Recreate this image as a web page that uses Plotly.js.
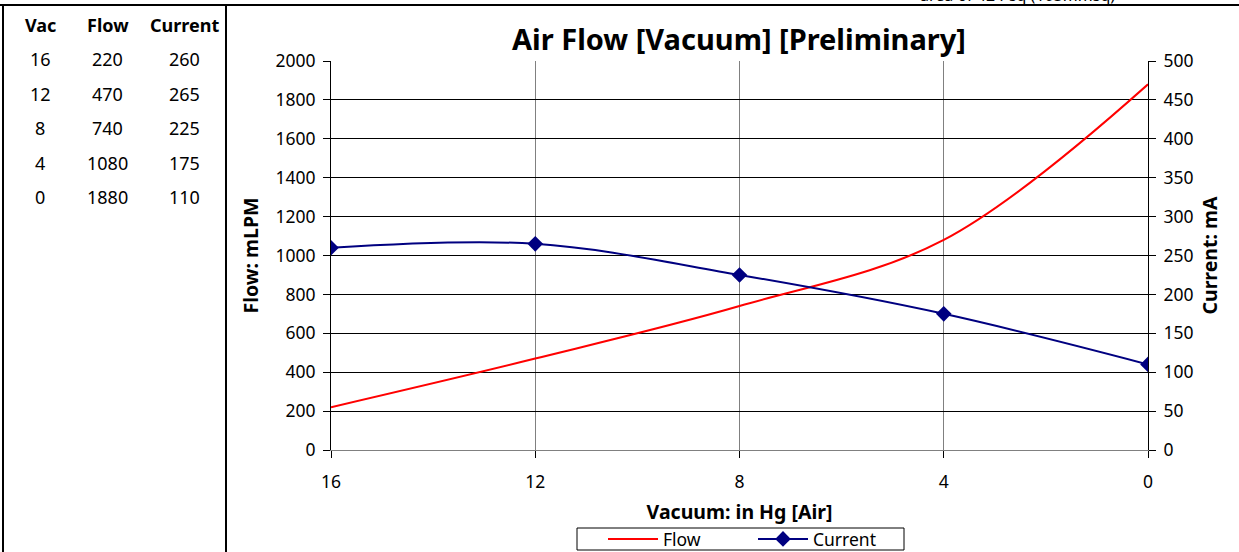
<!DOCTYPE html>
<html>
<head>
<meta charset="utf-8">
<script src="https://cdn.plot.ly/plotly-3.0.1.min.js"></script>
<style>
html,body{margin:0;padding:0;background:#fff;overflow:hidden;}
#chart{width:1239px;height:552px;}
</style>
</head>
<body>
<div id="chart"></div>
<script>
// ---- data ----
const vacuum = [16, 12, 8, 4, 0];
const flow = [220, 470, 740, 1080, 1880];
const current = [260, 265, 225, 175, 110];
const tableHeaders = ["Vac", "Flow", "Current"];
const xTickVals = [16, 12, 8, 4, 0];
const noteText = "area of 42 Psq (103mmsq)";

// ---- layout helpers (pixel -> paper) ----
const L = 331, R = 1148, T = 61, B = 450;
const W = 1239, H = 552;
const px = p => (p - L) / (R - L);
const py = p => (B - p) / (B - T);

const FONT = "Noto Sans, Tahoma, Verdana, sans-serif";
const FS = 17.5;      // tick / legend text
const FS_TAB = 18;    // table text
const FS_AX = 19.5;   // axis titles
const FS_TITLE = 29;  // chart title

const traces = [
  {
    x: vacuum, y: flow, name: "Flow", type: "scatter", mode: "lines",
    line: {color: "#ff0000", width: 2, shape: "spline", smoothing: 1},
    xaxis: "x", yaxis: "y"
  },
  {
    x: vacuum, y: current, name: "Current", type: "scatter", mode: "lines+markers",
    line: {color: "#000080", width: 2, shape: "spline", smoothing: 1},
    marker: {symbol: "diamond", size: 12, color: "#000080"},
    xaxis: "x", yaxis: "y2"
  }
];

// table annotations
const annotations = [];
const colX = [40, 108, 184];
const rowY0 = 25, rowStep = 34.4;
tableHeaders.forEach((h, j) => {
  annotations.push({xref: "paper", yref: "paper", x: px(colX[j]), y: py(rowY0), text: "<b>" + h + "</b>",
    showarrow: false, xanchor: "center", yanchor: "middle", font: {family: FONT, size: FS_TAB, color: "#000"}});
});
const cols = [vacuum, flow, current];
for (let i = 0; i < vacuum.length; i++) {
  cols.forEach((c, j) => {
    annotations.push({xref: "paper", yref: "paper", x: px(colX[j]), y: py(rowY0 + rowStep * (i + 1)), text: String(c[i]),
      showarrow: false, xanchor: "center", yanchor: "middle", font: {family: FONT, size: FS_TAB, color: "#000"}});
  });
}
// cut-off note at top right (as in the reference, only its lower part is visible)
annotations.push({xref: "paper", yref: "paper", x: px(1017), y: py(-5), text: noteText,
  showarrow: false, xanchor: "center", yanchor: "middle", font: {family: FONT, size: 16, color: "#000"}});

const shapes = [
  {type: "line", xref: "paper", yref: "paper", x0: px(0), x1: px(W), y0: py(5), y1: py(5), line: {color: "#000", width: 2}},
  {type: "line", xref: "paper", yref: "paper", x0: px(3), x1: px(3), y0: py(5), y1: py(H + 2), line: {color: "#000", width: 2}},
  {type: "line", xref: "paper", yref: "paper", x0: px(226), x1: px(226), y0: py(5), y1: py(H + 2), line: {color: "#000", width: 2}},
  // legend box
  {type: "rect", xref: "paper", yref: "paper", x0: px(577), x1: px(904), y0: py(528), y1: py(550), line: {color: "#000", width: 1}, fillcolor: "rgba(0,0,0,0)"}
];

const layout = {
  width: W, height: H,
  margin: {l: L, r: W - R, t: T, b: H - B, pad: 0, autoexpand: false},
  paper_bgcolor: "#fff", plot_bgcolor: "#fff",
  font: {family: FONT, size: FS, color: "#000"},
  showlegend: true,
  title: {text: "<b>Air Flow [Vacuum] [Preliminary]</b>", font: {family: FONT, size: FS_TITLE, color: "#000"},
    x: px(739), xref: "paper", xanchor: "center", y: 1 - 40 / H, yanchor: "middle"},
  xaxis: {
    range: [16, 0], tickmode: "array", tickvals: xTickVals, ticktext: xTickVals.map(String),
    showgrid: true, gridcolor: "#808080", gridwidth: 1, zeroline: false,
    showline: true, linecolor: "#808080", linewidth: 1,
    ticks: "outside", ticklen: 7, tickcolor: "#000", ticklabelstandoff: 9,
    tickfont: {family: FONT, size: FS},
    title: {text: "<b>Vacuum: in Hg [Air]</b>", font: {family: FONT, size: FS_AX}, standoff: 13},
    fixedrange: true
  },
  yaxis: {
    range: [0, 2000], dtick: 200, tick0: 0,
    showgrid: true, gridcolor: "#000", gridwidth: 1, zeroline: false,
    showline: true, linecolor: "#000", linewidth: 1,
    ticks: "outside", ticklen: 7, tickcolor: "#000", ticklabelstandoff: 4,
    tickfont: {family: FONT, size: FS},
    title: {text: "<b>Flow: mLPM</b>", font: {family: FONT, size: FS_AX}, standoff: 11},
    fixedrange: true
  },
  yaxis2: {
    range: [0, 500], dtick: 50, tick0: 0, overlaying: "y", side: "right",
    showgrid: false, zeroline: false,
    showline: true, linecolor: "#000", linewidth: 1,
    ticks: "outside", ticklen: 7, tickcolor: "#000", ticklabelstandoff: 4,
    tickfont: {family: FONT, size: FS},
    title: {text: "<b>Current: mA</b>", font: {family: FONT, size: FS_AX}, standoff: 10},
    fixedrange: true
  },
  legend: {
    orientation: "h", x: px(753), y: py(539), xanchor: "center", yanchor: "middle",
    borderwidth: 0, bgcolor: "rgba(0,0,0,0)",
    font: {family: FONT, size: FS}, entrywidth: 85, itemwidth: 50
  },
  annotations: annotations,
  shapes: shapes
};

Plotly.newPlot("chart", traces, layout, {displayModeBar: false, staticPlot: true});
</script>
</body>
</html>
